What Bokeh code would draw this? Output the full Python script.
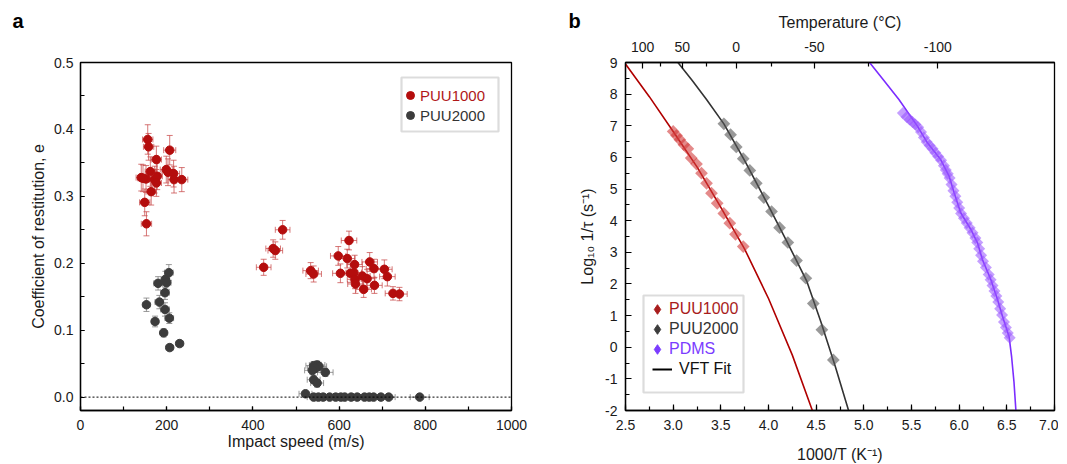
import numpy as np
from bokeh.plotting import figure
from bokeh.models import (ColumnDataSource, Whisker, TeeHead, Span, Legend, LegendItem,
                          BoxAnnotation, Label, LinearAxis, FixedTicker, CustomJSTickFormatter,
                          Range1d, SingleIntervalTicker, PrintfTickFormatter)
from bokeh.layouts import row
from bokeh.embed import file_html
from bokeh.resources import INLINE

FONT = "Liberation Sans"
TXT = "#1a1a1a"

# ---------------- panel a : coefficient of restitution ----------------
puu1000_speed = [156, 158, 207, 176, 162, 141, 152, 172, 178, 176, 199, 203, 216, 217, 235, 164, 149, 153, 145,
                 425, 447, 452, 469, 534, 541, 598, 623, 603, 619, 636, 626, 634, 637, 638, 654, 665, 657, 671,
                 681, 682, 705, 712, 725, 740]
puu1000_e = [0.385, 0.374, 0.369, 0.355, 0.337, 0.328, 0.326, 0.325, 0.330, 0.320, 0.340, 0.336, 0.334, 0.325,
             0.325, 0.307, 0.291, 0.259, 0.327,
             0.194, 0.222, 0.219, 0.250, 0.189, 0.184, 0.211, 0.234, 0.185, 0.207, 0.198, 0.185, 0.186, 0.176,
             0.169, 0.181, 0.177, 0.161, 0.202, 0.192, 0.167, 0.191, 0.180, 0.155, 0.154]
puu1000_speed_err = [12, 12, 14, 12, 12, 12, 12, 12, 12, 12, 14, 14, 14, 14, 14, 12, 12, 12, 12,
                     17, 17, 17, 17, 18, 18, 18, 18, 18, 18, 18, 18, 18, 18, 18, 18, 18, 18, 18,
                     18, 18, 18, 18, 18, 18]
puu1000_e_err = [0.022, 0.020, 0.022, 0.020, 0.022, 0.020, 0.020, 0.020, 0.020, 0.020, 0.020, 0.020, 0.020,
                 0.020, 0.018, 0.020, 0.020, 0.018, 0.020,
                 0.012, 0.013, 0.013, 0.014, 0.012, 0.012, 0.014, 0.014, 0.014, 0.014, 0.014, 0.014, 0.014,
                 0.014, 0.014, 0.014, 0.014, 0.012, 0.014, 0.014, 0.012, 0.014, 0.014, 0.010, 0.010]

puu2000_speed = [153, 180, 197, 200, 205, 196, 183, 196, 206, 173, 193, 207, 230,
                 541, 549, 553, 545, 538, 568, 541, 549, 522,
                 541, 552, 563, 578, 592, 604, 613, 628, 642, 659, 670, 680, 697, 715, 787]
puu2000_e = [0.138, 0.170, 0.176, 0.171, 0.186, 0.156, 0.142, 0.131, 0.118, 0.113, 0.096, 0.074, 0.080,
             0.047, 0.048, 0.046, 0.043, 0.040, 0.037, 0.026, 0.021, 0.005,
             0, 0, 0, 0, 0, 0, 0, 0, 0, 0, 0, 0, 0, 0, 0]
puu2000_speed_err = [8, 10, 10, 10, 10, 10, 10, 10, 10, 8, 8, 8, 8,
                     18, 18, 18, 18, 18, 18, 15, 15, 15,
                     15, 15, 15, 15, 15, 15, 15, 15, 15, 15, 15, 15, 15, 15, 22]
puu2000_e_err = [0.010, 0.010, 0.012, 0.010, 0.012, 0.010, 0.010, 0.010, 0.008, 0.008, 0.006, 0.004, 0.004,
                 0.006, 0.006, 0.006, 0.006, 0.006, 0.006, 0.006, 0.006, 0.004,
                 0, 0, 0, 0, 0, 0, 0, 0, 0, 0, 0, 0, 0, 0, 0]

# ---------------- panel b : relaxation map ----------------
puu1000_invT = [3.000, 3.035, 3.070, 3.112, 3.154, 3.189, 3.245, 3.297, 3.350, 3.402, 3.462, 3.531, 3.594,
                3.654, 3.735]
puu1000_rate = [6.82, 6.69, 6.56, 6.40, 6.27, 5.98, 5.79, 5.50, 5.18, 4.87, 4.55, 4.23, 3.92, 3.57, 3.18]
puu2000_invT = [3.532, 3.602, 3.662, 3.735, 3.804, 3.872, 3.951, 4.032, 4.116, 4.203, 4.294, 4.392, 4.47,
                4.56, 4.68]
puu2000_rate = [7.06, 6.72, 6.33, 5.96, 5.59, 5.18, 4.73, 4.29, 3.78, 3.31, 2.74, 2.18, 1.38, 0.55, -0.40]
pdms_invT = [5.41, 5.45, 5.48, 5.51, 5.54, 5.57, 5.60, 5.63, 5.66, 5.69, 5.72, 5.75, 5.78, 5.81, 5.84, 5.86,
             5.88, 5.90, 5.92, 5.94, 5.96, 5.98, 6.00, 6.02, 6.05, 6.08, 6.11, 6.14, 6.17, 6.19, 6.21, 6.23,
             6.25, 6.28, 6.31, 6.33, 6.35, 6.37, 6.39, 6.41, 6.43, 6.45, 6.47, 6.49, 6.51, 6.53]
pdms_rate = [7.40, 7.28, 7.20, 7.12, 7.04, 6.95, 6.80, 6.63, 6.49, 6.38, 6.27, 6.15, 6.03, 5.91, 5.74, 5.60,
             5.48, 5.35, 5.14, 4.95, 4.77, 4.58, 4.40, 4.23, 4.08, 3.93, 3.78, 3.62, 3.45, 3.31, 3.11, 2.91,
             2.72, 2.52, 2.30, 2.13, 1.95, 1.78, 1.62, 1.43, 1.22, 1.02, 0.80, 0.62, 0.45, 0.30]

fit1000_x = [2.5, 2.75, 3.0, 3.25, 3.5, 3.75, 4.0, 4.25, 4.46]
fit1000_y = [8.95, 7.92, 6.82, 5.70, 4.42, 3.10, 1.54, -0.25, -2.0]
fit2000_x = [3.05, 3.2, 3.35, 3.532, 3.75, 4.0, 4.2, 4.4, 4.55, 4.7, 4.84]
fit2000_y = [9.0, 8.43, 7.83, 7.06, 5.90, 4.47, 3.30, 2.10, 0.80, -0.60, -2.0]
fitpdms_x = [5.06, 5.2, 5.368, 5.562, 5.667, 5.806, 5.894, 5.946, 6.016, 6.121, 6.192, 6.244, 6.332, 6.402,
             6.454, 6.524, 6.55, 6.575, 6.595]
fitpdms_y = [9.0, 8.47, 7.83, 6.99, 6.46, 5.93, 5.41, 4.89, 4.25, 3.73, 3.30, 2.77, 2.14, 1.51, 0.98, 0.33,
             -0.3, -1.1, -2.0]

temp_major = [100, 50, 0, -50, -100]
temp_minor = [75, 25, -25, -75]

RED = "#b40d0d"
GREY = "#3c3c3c"
PURPLE = "#7b2cff"
ROT = np.pi / 4


def style_axis(ax, tick_in=5, minor_in=3):
    ax.axis_label_text_font = FONT
    ax.axis_label_text_font_style = "normal"
    ax.axis_label_text_font_size = "16px"
    ax.axis_label_text_color = TXT
    ax.major_label_text_font = FONT
    ax.major_label_text_font_size = "14px"
    ax.major_label_text_color = TXT
    ax.axis_line_color = "black"
    ax.axis_line_width = 1.3
    ax.major_tick_line_color = "black"
    ax.major_tick_line_width = 1.2
    ax.minor_tick_line_color = "black"
    ax.minor_tick_line_width = 1.2
    ax.major_tick_in = tick_in
    ax.major_tick_out = 0
    ax.minor_tick_in = minor_in
    ax.minor_tick_out = 0


def add_errorbars(p, xs, ys, xerr, yerr, color, alpha):
    x = np.array(xs, float)
    y = np.array(ys, float)
    xe = np.array(xerr, float)
    ye = np.array(yerr, float)
    src = ColumnDataSource(dict(x=x, y=y, xl=x - xe, xu=x + xe, yl=y - ye, yu=y + ye))
    for dim, base, lo, up in (("height", "x", "yl", "yu"), ("width", "y", "xl", "xu")):
        w = Whisker(source=src, base=base, lower=lo, upper=up, dimension=dim,
                    line_color=color, line_alpha=alpha, line_width=1,
                    lower_head=TeeHead(size=6, line_color=color, line_alpha=alpha, line_width=1),
                    upper_head=TeeHead(size=6, line_color=color, line_alpha=alpha, line_width=1))
        p.add_layout(w)


def add_legend(p, r, label, color, x, y, standoff=0, fs="15px", gw=20, gh=20):
    lg = Legend(items=[LegendItem(label=label, renderers=[r])], location=(x, y),
                padding=0, margin=0, spacing=0, border_line_alpha=0, background_fill_alpha=0,
                glyph_width=gw, glyph_height=gh, label_height=20, label_standoff=standoff,
                label_text_font=FONT, label_text_font_size=fs, label_text_color=color)
    p.add_layout(lg)


def panel_letter(p, letter, x, y):
    p.add_layout(Label(x=x, y=y, x_units="canvas", y_units="canvas", text=letter, text_font=FONT,
                       text_font_style="bold", text_font_size="20px", text_baseline="middle",
                       text_align="left", text_color="black"), "left")


# ---------------- figure a ----------------
pa = figure(frame_width=431, frame_height=348, min_border_left=80, min_border_right=33,
            min_border_top=62, min_border_bottom=48, x_range=Range1d(0, 1000), y_range=Range1d(-0.02, 0.5),
            output_backend="svg", toolbar_location=None, tools="")
pa.xgrid.visible = False
pa.ygrid.visible = False
pa.outline_line_color = "black"
pa.outline_line_width = 1.3
pa.outline_line_alpha = 1

pa.xaxis.ticker = SingleIntervalTicker(interval=200, num_minor_ticks=2)
pa.yaxis.ticker = SingleIntervalTicker(interval=0.1, num_minor_ticks=2)
pa.yaxis.formatter = PrintfTickFormatter(format="%.1f")
pa.xaxis.axis_label = "Impact speed (m/s)"
pa.yaxis.axis_label = "Coefficient of restitution, e"
style_axis(pa.xaxis[0], 4, 4)
style_axis(pa.yaxis[0], 4, 4)
pa.xaxis.major_label_standoff = 9
pa.xaxis.axis_label_standoff = 0
pa.yaxis.major_label_standoff = 7
pa.yaxis.axis_label_standoff = 4

pa.add_layout(Span(location=0, dimension="width", line_color="black", line_width=1, line_dash="2 2"))

add_errorbars(pa, puu1000_speed, puu1000_e, puu1000_speed_err, puu1000_e_err, "#c84a4a", 0.75)
add_errorbars(pa, puu2000_speed, puu2000_e, puu2000_speed_err, puu2000_e_err, "#808080", 0.8)
r_a1 = pa.scatter(puu1000_speed, puu1000_e, size=8.5, fill_color=RED, line_color=RED)
r_a2 = pa.scatter(puu2000_speed, puu2000_e, size=8.5, fill_color=GREY, line_color=GREY)

pa.add_layout(BoxAnnotation(left=321, right=418, top=333, bottom=279, left_units="screen",
                            right_units="screen", top_units="screen", bottom_units="screen",
                            fill_alpha=0, line_color="#8c8c8c", line_width=2.2))
add_legend(pa, r_a1, "PUU1000", "#b01818", 320, 305)
add_legend(pa, r_a2, "PUU2000", "#333333", 320, 285)
panel_letter(pa, "a", 12, 20)

# ---------------- figure b ----------------
pb = figure(frame_width=429, frame_height=348, min_border_left=81, min_border_right=4,
            min_border_top=62, min_border_bottom=48, x_range=Range1d(2.5, 7.0), y_range=Range1d(-2, 9),
            output_backend="svg", toolbar_location=None, tools="")
pb.xgrid.visible = False
pb.ygrid.visible = False
pb.outline_line_color = "black"
pb.outline_line_width = 1.3
pb.outline_line_alpha = 1

pb.xaxis.ticker = SingleIntervalTicker(interval=0.5, num_minor_ticks=2)
pb.xaxis.formatter = PrintfTickFormatter(format="%.1f")
pb.yaxis.ticker = SingleIntervalTicker(interval=1, num_minor_ticks=2)
pb.yaxis.formatter = PrintfTickFormatter(format="%d")
pb.xaxis.axis_label = "1000/T (K\u207b\u00b9)"
pb.yaxis.axis_label = "Log\u2081\u2080 1/\u03c4 (s\u207b\u00b9)"
style_axis(pb.xaxis[0], 6, 4)
style_axis(pb.yaxis[0], 6, 4)
pb.xaxis.major_label_standoff = 9
pb.xaxis.axis_label_standoff = 13
pb.yaxis.major_label_standoff = 8
pb.yaxis.axis_label_standoff = 6

top_ticks = [1000.0 / (t + 273.15) for t in temp_major]
top_minor = [1000.0 / (t + 273.15) for t in temp_minor]
ax_top = LinearAxis(ticker=FixedTicker(ticks=top_ticks, minor_ticks=top_minor),
                    formatter=CustomJSTickFormatter(code="return String(Math.round(1000/tick - 273.15));"),
                    axis_label="Temperature (\u00b0C)")
style_axis(ax_top, 6, 4)
ax_top.major_label_standoff = 11
ax_top.axis_label_standoff = 8
pb.add_layout(ax_top, "above")

pb.line(fit1000_x, fit1000_y, line_color="#b00000", line_width=1.6)
pb.line(fit2000_x, fit2000_y, line_color="#333333", line_width=1.6)
pb.line(fitpdms_x, fitpdms_y, line_color=PURPLE, line_width=1.6)
pb.scatter(puu1000_invT, puu1000_rate, marker="square", angle=ROT, size=9, fill_color="#d23c3c",
           fill_alpha=0.6, line_color=None)
pb.scatter(puu2000_invT, puu2000_rate, marker="square", angle=ROT, size=9, fill_color="#555555",
           fill_alpha=0.6, line_color=None)
pb.scatter(pdms_invT, pdms_rate, marker="square", angle=ROT, size=8.5, fill_color="#9650ff",
           fill_alpha=0.55, line_color=None)

# legend-only renderers (no visible data)
nan = [float("nan")]
lg1 = pb.scatter(nan, nan, marker="diamond", size=10, fill_color="#a81c1c", line_color="#a81c1c")
lg2 = pb.scatter(nan, nan, marker="diamond", size=10, fill_color="#3c3c3c", line_color="#3c3c3c")
lg3 = pb.scatter(nan, nan, marker="diamond", size=10, fill_color="#7b3cff", line_color="#7b3cff")
lg4 = pb.line(nan, nan, line_color="black", line_width=2)

pb.add_layout(BoxAnnotation(left=18, right=118, top=115, bottom=18, left_units="screen",
                            right_units="screen", top_units="screen", bottom_units="screen",
                            fill_alpha=0, line_color="#8c8c8c", line_width=2.2))
add_legend(pb, lg1, "PUU1000", "#a81c1c", 20, 89, 0, "16px", 24, 24)
add_legend(pb, lg2, "PUU2000", "#333333", 20, 69, 0, "16px", 24, 24)
add_legend(pb, lg3, "PDMS", "#7b3cff", 20, 49, 0, "16px", 24, 24)
add_legend(pb, lg4, "VFT Fit", "#111111", 27, 31, 7, "16px")
panel_letter(pb, "b", 24, 20)

layout = row(pa, pb)
open("out.html", "w").write(file_html(layout, INLINE))
